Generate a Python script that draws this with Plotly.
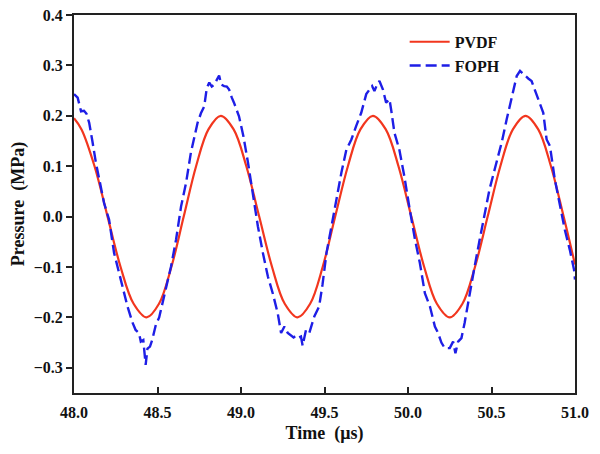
#!/usr/bin/env python3
"""PVDF 与 FOPH 声压波形对比图。"""

import plotly.graph_objects as go

# PVDF 波形 (时间 μs, 压力 MPa)
pvdf_time = [
    48.000, 48.045, 48.123, 48.201, 48.279, 48.357, 48.435,
    48.509, 48.583, 48.657, 48.731, 48.805, 48.879,
    48.956, 49.032, 49.109, 49.186, 49.262, 49.339,
    49.414, 49.489, 49.564, 49.640, 49.715, 49.790,
    49.867, 49.943, 50.020, 50.097, 50.173, 50.250,
    50.326, 50.401, 50.477, 50.553, 50.628, 50.704,
    50.780, 50.856, 50.932, 51.000,
]
pvdf_pressure = [
    0.195, 0.173, 0.100, 0.000, -0.100, -0.173, -0.200,
    -0.173, -0.100, 0.000, 0.100, 0.173, 0.200,
    0.173, 0.100, 0.000, -0.100, -0.173, -0.200,
    -0.173, -0.100, 0.000, 0.100, 0.173, 0.200,
    0.173, 0.100, 0.000, -0.100, -0.173, -0.200,
    -0.173, -0.100, 0.000, 0.100, 0.173, 0.200,
    0.173, 0.100, 0.000, -0.095,
]

# FOPH 波形 (时间 μs, 压力 MPa)
foph_time = [
    48.000, 48.022, 48.042, 48.060, 48.075, 48.091, 48.110, 48.131, 48.155, 48.180,
    48.210, 48.240, 48.280, 48.320, 48.350, 48.369, 48.389, 48.400, 48.415, 48.429,
    48.440, 48.455, 48.468, 48.490, 48.510, 48.542, 48.581, 48.611, 48.641, 48.671,
    48.700, 48.740, 48.760, 48.780, 48.795, 48.810, 48.825, 48.840, 48.855, 48.869,
    48.882, 48.899, 48.915, 48.929, 48.945, 48.958, 48.988, 49.014, 49.042, 49.071,
    49.101, 49.131, 49.161, 49.190, 49.220, 49.240, 49.260, 49.280, 49.300, 49.315,
    49.330, 49.345, 49.359, 49.369, 49.389, 49.409, 49.439, 49.468, 49.488, 49.512,
    49.542, 49.571, 49.601, 49.631, 49.661, 49.690, 49.720, 49.750, 49.770, 49.785,
    49.799, 49.815, 49.829, 49.850, 49.869, 49.889, 49.900, 49.919, 49.948, 49.978,
    50.010, 50.042, 50.071, 50.101, 50.131, 50.161, 50.180, 50.200, 50.220, 50.250,
    50.270, 50.284, 50.300, 50.320, 50.339, 50.369, 50.399, 50.429, 50.458, 50.488,
    50.520, 50.561, 50.591, 50.621, 50.651, 50.671, 50.700, 50.720, 50.740, 50.760,
    50.780, 50.810, 50.830, 50.850, 50.879, 50.909, 50.939, 50.969, 50.994, 51.000,
]
foph_pressure = [
    0.243, 0.236, 0.209, 0.210, 0.204, 0.186, 0.150, 0.107, 0.068, 0.027,
    -0.006, -0.072, -0.125, -0.178, -0.210, -0.225, -0.231, -0.248, -0.245, -0.294,
    -0.262, -0.258, -0.245, -0.215, -0.200, -0.152, -0.099, -0.046, 0.020, 0.067,
    0.127, 0.186, 0.205, 0.219, 0.255, 0.266, 0.258, 0.262, 0.270, 0.280,
    0.262, 0.259, 0.258, 0.252, 0.236, 0.226, 0.199, 0.160, 0.107, 0.040,
    -0.019, -0.072, -0.119, -0.152, -0.192, -0.231, -0.218, -0.231, -0.236, -0.240,
    -0.236, -0.240, -0.238, -0.256, -0.225, -0.231, -0.198, -0.178, -0.135, -0.072,
    -0.019, 0.034, 0.087, 0.133, 0.153, 0.180, 0.206, 0.243, 0.252, 0.259,
    0.249, 0.262, 0.269, 0.252, 0.226, 0.233, 0.210, 0.166, 0.133, 0.080,
    0.015, -0.046, -0.092, -0.152, -0.178, -0.218, -0.231, -0.250, -0.261, -0.261,
    -0.248, -0.271, -0.248, -0.241, -0.211, -0.152, -0.099, -0.046, 0.007, 0.054,
    0.095, 0.147, 0.193, 0.239, 0.279, 0.289, 0.279, 0.274, 0.269, 0.252,
    0.233, 0.206, 0.153, 0.140, 0.074, 0.020, -0.026, -0.066, -0.105, -0.125,
]

x_ticks = [48.0, 48.5, 49.0, 49.5, 50.0, 50.5, 51.0]
y_ticks = [-0.3, -0.2, -0.1, 0.0, 0.1, 0.2, 0.3, 0.4]

SERIF = "Liberation Serif, Times New Roman, serif"


def build_figure():
    fig = go.Figure()
    fig.add_trace(
        go.Scatter(
            x=pvdf_time,
            y=pvdf_pressure,
            name="PVDF",
            mode="lines",
            line=dict(color="#f2361e", width=2.2, shape="spline", smoothing=1.0),
        )
    )
    fig.add_trace(
        go.Scatter(
            x=foph_time,
            y=foph_pressure,
            name="FOPH",
            mode="lines",
            line=dict(color="#1e1ee6", width=2.4, dash="11px,5px"),
        )
    )

    axis_common = dict(
        showgrid=False,
        zeroline=False,
        showline=True,
        linecolor="#222222",
        linewidth=2,
        mirror=True,
        ticklen=6,
        tickwidth=2,
        tickcolor="#222222",
        tickformat=".1f",
        ticklabeloverflow="allow",
        tickfont=dict(family=SERIF, size=16, color="#111111", weight="bold"),
    )
    title_font = dict(family=SERIF, size=18, color="#111111", weight="bold")
    fig.update_xaxes(
        range=[48.0, 51.0],
        tickvals=x_ticks,
        ticks="inside",
        ticklabelstandoff=4,
        title=dict(text="Time  (μs)", font=title_font, standoff=6),
        **axis_common,
    )
    fig.update_yaxes(
        range=[-0.35, 0.4],
        tickvals=y_ticks,
        ticks="outside",
        title=dict(text="Pressure  (MPa)", font=title_font, standoff=6),
        **axis_common,
    )

    # 页面 body 自带 8px 边距，宽高各减 8 以便在 600x454 窗口内完整显示
    fig.update_layout(
        width=592,
        height=446,
        margin=dict(l=66, r=25, t=7, b=61, autoexpand=False),
        paper_bgcolor="white",
        plot_bgcolor="white",
        legend=dict(
            x=0.66,
            y=0.974,
            xanchor="left",
            yanchor="top",
            bgcolor="rgba(0,0,0,0)",
            font=dict(family=SERIF, size=16, color="#111111", weight="bold"),
            tracegroupgap=0,
            itemwidth=40,
        ),
    )
    return fig


def main():
    fig = build_figure()
    fig.write_html("out.html")


if __name__ == "__main__":
    main()
